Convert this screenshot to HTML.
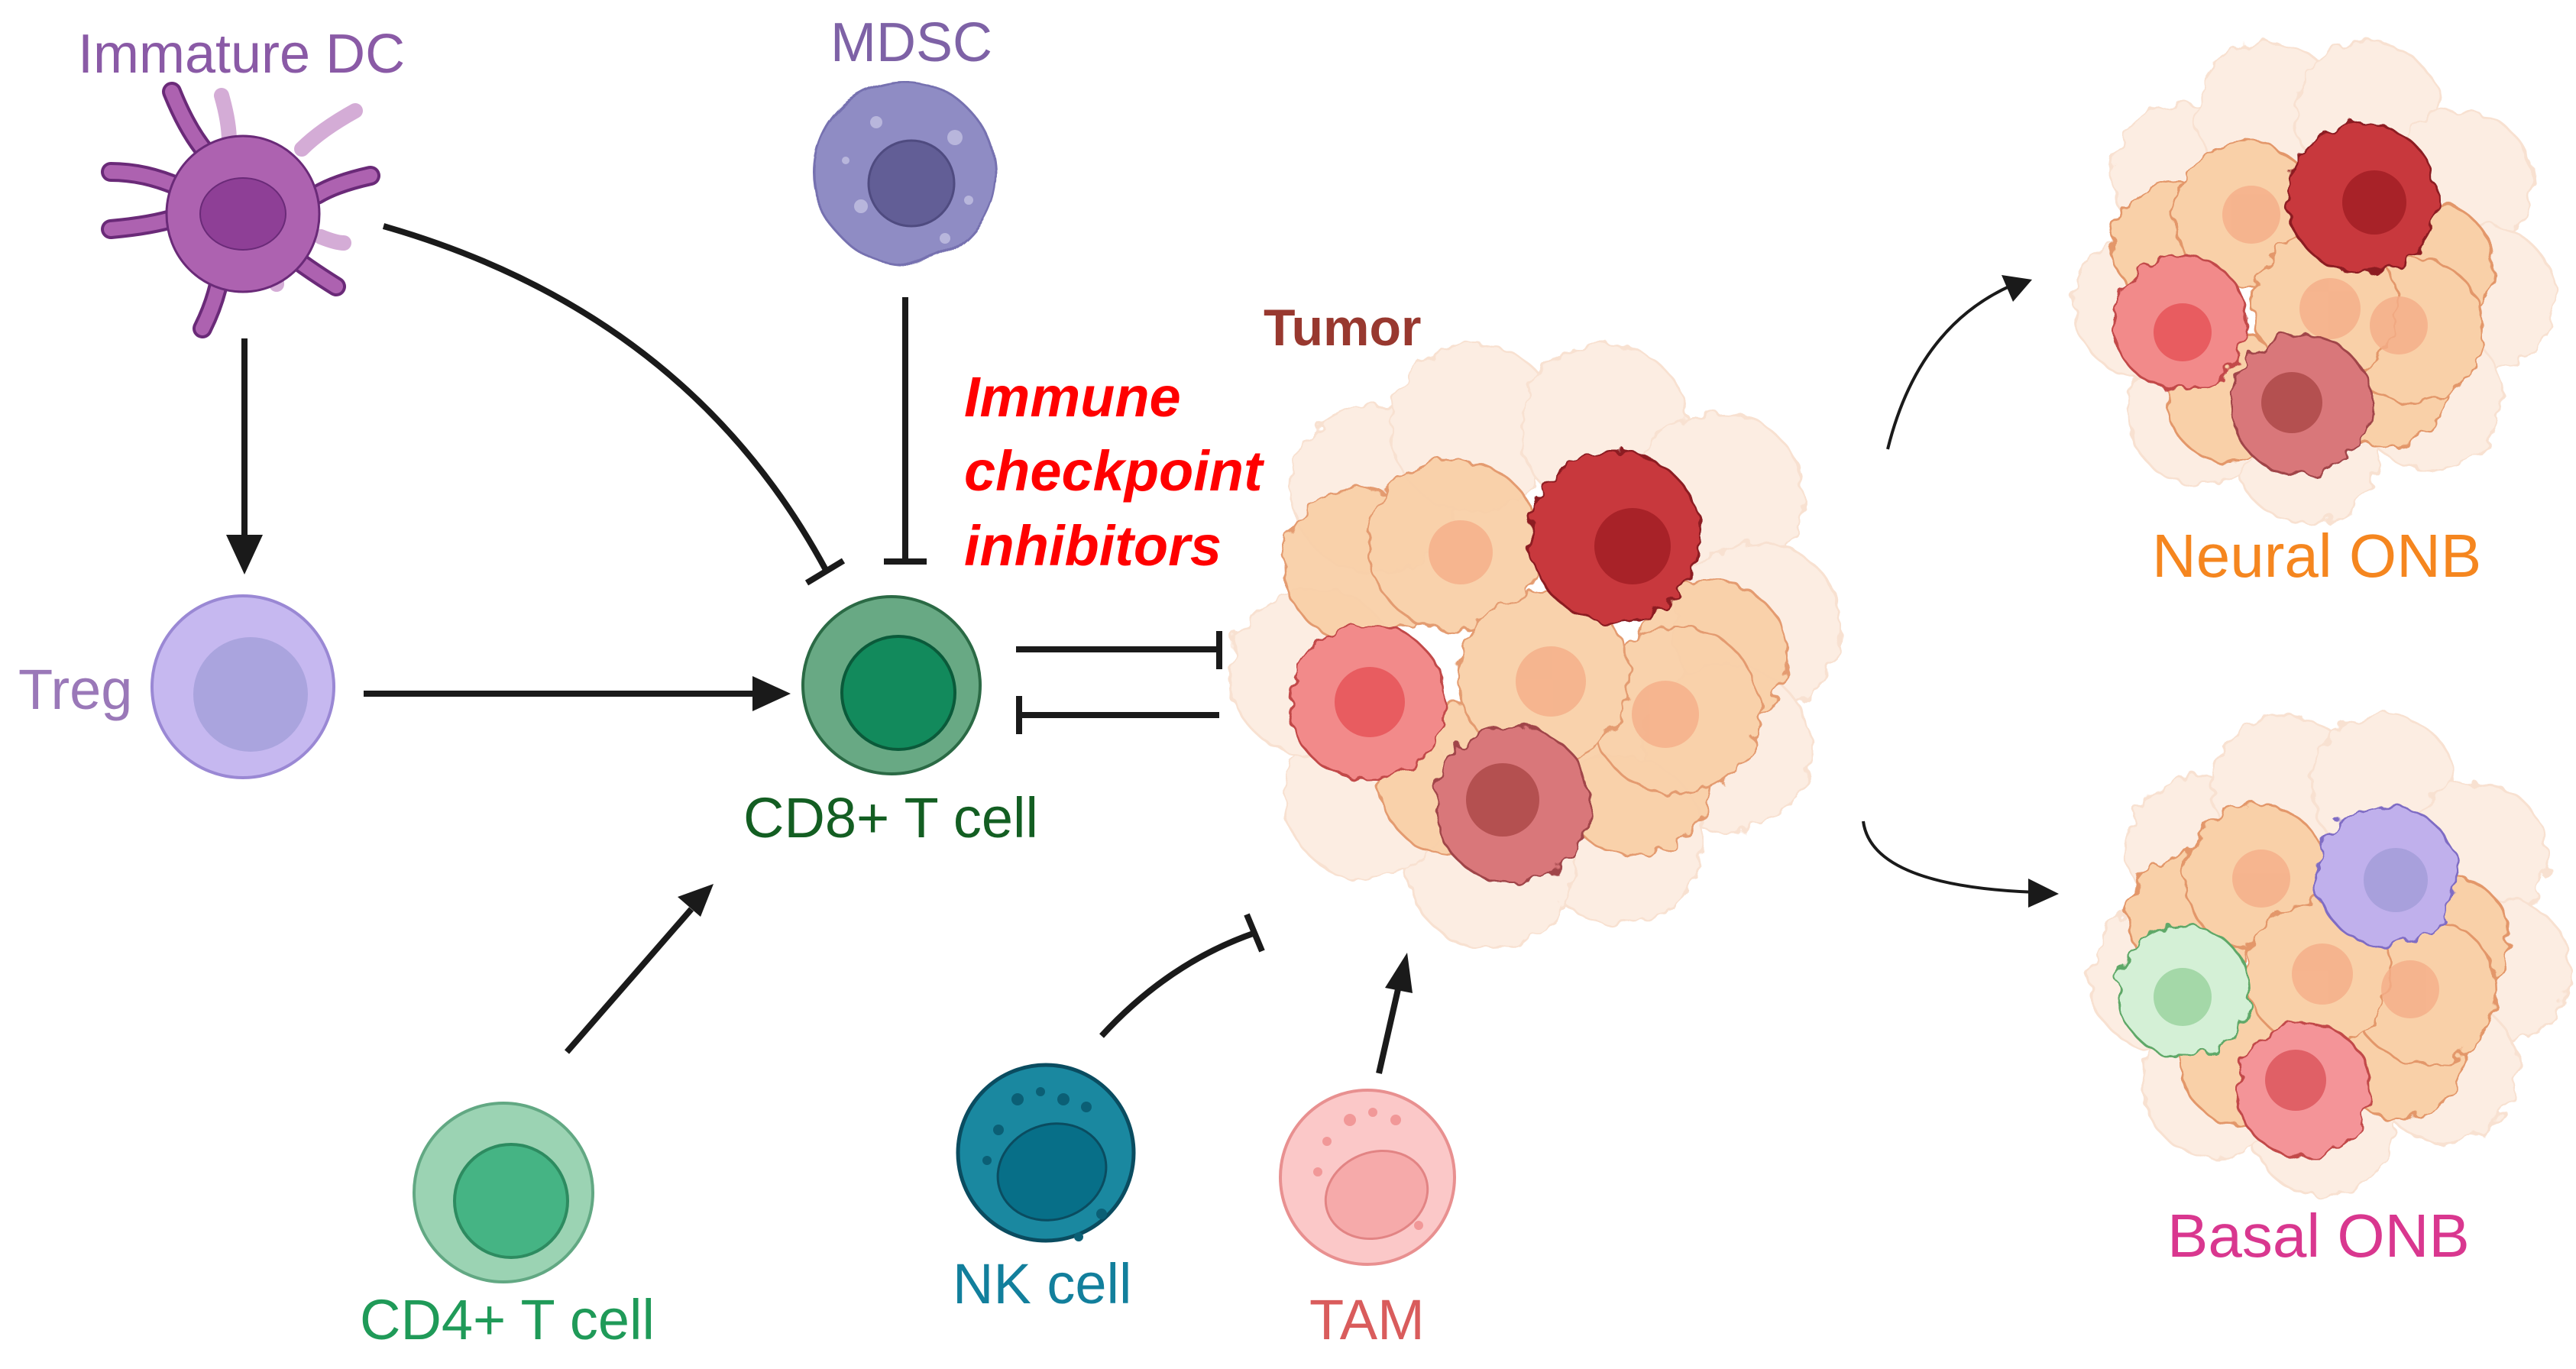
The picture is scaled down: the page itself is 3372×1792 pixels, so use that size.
<!DOCTYPE html>
<html><head><meta charset="utf-8"><style>
html,body{margin:0;padding:0;background:#fff}
svg{display:block}
text{font-family:"Liberation Sans",sans-serif}
</style></head><body>
<svg width="3372" height="1792" viewBox="0 0 3372 1792" xmlns="http://www.w3.org/2000/svg">
<defs>
<filter id="wv" x="-20%" y="-20%" width="140%" height="140%">
<feTurbulence type="fractalNoise" baseFrequency="0.045" numOctaves="2" seed="3"/>
<feDisplacementMap in="SourceGraphic" scale="22"/>
</filter>
<filter id="wv2" x="-20%" y="-20%" width="140%" height="140%">
<feTurbulence type="fractalNoise" baseFrequency="0.02" numOctaves="1" seed="7"/>
<feDisplacementMap in="SourceGraphic" scale="18"/>
</filter>
</defs>

<!-- Labels -->
<text x="102" y="95" font-size="72" fill="#8a5aa6">Immature DC</text>
<text x="1087" y="80" font-size="72" fill="#7e62a6">MDSC</text>
<text x="24" y="928" font-size="74" fill="#9a78b8">Treg</text>
<text x="973" y="1096" font-size="74" fill="#135e22">CD8+ T cell</text>
<text x="471" y="1753" font-size="74" fill="#1f9a58">CD4+ T cell</text>
<text x="1247" y="1706" font-size="74" fill="#127f9c">NK cell</text>
<text x="1714" y="1753" font-size="74" fill="#d95c5c">TAM</text>
<text x="1654" y="452" font-size="68" font-weight="bold" fill="#98382f">Tumor</text>
<text x="2817" y="755" font-size="80" fill="#f5861f">Neural ONB</text>
<text x="2837" y="1645" font-size="80" fill="#d9378f">Basal ONB</text>
<g font-size="74" font-weight="bold" font-style="italic" fill="#ff0000">
<text x="1262" y="545">Immune</text>
<text x="1262" y="642">checkpoint</text>
<text x="1262" y="740">inhibitors</text>
</g>

<!-- Immature DC -->
<g stroke-linecap="round" fill="none">
<g stroke="#d4acd6" stroke-width="20">
<path d="M290 125 Q300 160 300 185"/><path d="M465 145 Q420 170 395 195"/><path d="M355 330 Q362 360 362 372"/><path d="M420 310 Q440 318 450 318"/>
</g>
<g stroke="#6a2a78" stroke-width="26">
<path d="M225 120 Q245 170 270 200"/><path d="M145 225 Q190 225 235 245"/><path d="M145 300 Q200 295 230 285"/>
<path d="M265 430 Q285 390 290 350"/><path d="M440 375 Q400 350 375 330"/><path d="M485 230 Q440 240 415 255"/>
</g>
<g stroke="#ad62b0" stroke-width="18">
<path d="M225 120 Q245 170 270 200"/><path d="M145 225 Q190 225 235 245"/><path d="M145 300 Q200 295 230 285"/>
<path d="M265 430 Q285 390 290 350"/><path d="M440 375 Q400 350 375 330"/><path d="M485 230 Q440 240 415 255"/>
</g>
</g>
<ellipse cx="318" cy="280" rx="100" ry="102" fill="#ad62b0" stroke="#6a2a78" stroke-width="3"/>
<ellipse cx="318" cy="280" rx="56" ry="47" fill="#8e3f96" stroke="#6a2a78" stroke-width="2"/>

<!-- MDSC -->
<g filter="url(#wv2)"><circle cx="1185" cy="227" r="118" fill="#8f8cc4" stroke="#7671b0" stroke-width="3"/></g>
<circle cx="1193" cy="240" r="56" fill="#625e96" stroke="#4f4b80" stroke-width="3"/>
<g fill="#b8b6dc"><circle cx="1147" cy="160" r="8"/><circle cx="1250" cy="180" r="10"/><circle cx="1127" cy="270" r="9"/><circle cx="1237" cy="312" r="7"/><circle cx="1268" cy="262" r="6"/><circle cx="1107" cy="210" r="5"/></g>

<!-- Treg -->
<circle cx="318" cy="899" r="119" fill="#c6b8f0" stroke="#9a88d4" stroke-width="4"/>
<circle cx="328" cy="909" r="75" fill="#aaa4de"/>

<!-- CD8 -->
<circle cx="1167" cy="897" r="116" fill="#68a984" stroke="#2b6a45" stroke-width="4"/>
<circle cx="1176" cy="907" r="74" fill="#128a5c" stroke="#0a5a3a" stroke-width="4"/>

<!-- CD4 -->
<circle cx="659" cy="1561" r="117" fill="#9bd3b3" stroke="#62a883" stroke-width="4"/>
<circle cx="669" cy="1572" r="74" fill="#45b484" stroke="#2d8b60" stroke-width="4"/>

<!-- NK -->
<circle cx="1369" cy="1509" r="115" fill="#1a88a0" stroke="#0a4c60" stroke-width="5"/>
<ellipse cx="1377" cy="1534" rx="72" ry="62" transform="rotate(-20 1377 1534)" fill="#076f88" stroke="#0a4c60" stroke-width="3"/>
<g fill="#0b5f75"><circle cx="1332" cy="1439" r="8"/><circle cx="1362" cy="1429" r="6"/><circle cx="1392" cy="1439" r="8"/><circle cx="1422" cy="1449" r="7"/><circle cx="1307" cy="1479" r="7"/><circle cx="1292" cy="1519" r="6"/><circle cx="1442" cy="1589" r="7"/><circle cx="1412" cy="1619" r="6"/></g>

<!-- TAM -->
<circle cx="1790" cy="1541" r="114" fill="#fbc8c8" stroke="#e89090" stroke-width="4"/>
<ellipse cx="1802" cy="1564" rx="68" ry="56" transform="rotate(-20 1802 1564)" fill="#f6aaaa" stroke="#e28484" stroke-width="3"/>
<g fill="#f19898"><circle cx="1767" cy="1466" r="8"/><circle cx="1797" cy="1456" r="6"/><circle cx="1827" cy="1466" r="7"/><circle cx="1737" cy="1494" r="6"/><circle cx="1725" cy="1534" r="6"/><circle cx="1857" cy="1604" r="6"/></g>

<!-- Connectors -->
<g stroke="#1a1a1a" stroke-width="8" fill="none">
<line x1="320" y1="443" x2="320" y2="700"/>
<line x1="476" y1="908" x2="985" y2="908"/>
<path d="M502 296 Q900 410 1081 746"/>
<line x1="1056" y1="763" x2="1104" y2="734"/>
<line x1="1185" y1="389" x2="1185" y2="735"/>
<line x1="1157" y1="735" x2="1213" y2="735"/>
<line x1="1330" y1="850" x2="1596" y2="850"/>
<line x1="1596" y1="826" x2="1596" y2="876"/>
<line x1="1334" y1="936" x2="1596" y2="936"/>
<line x1="1334" y1="911" x2="1334" y2="961"/>
<line x1="742" y1="1377" x2="905" y2="1190"/>
<path d="M1442 1356 Q1530 1260 1643 1221"/>
<line x1="1632" y1="1197" x2="1652" y2="1245"/>
<line x1="1805" y1="1405" x2="1830" y2="1295"/>
</g>
<g stroke="#1a1a1a" stroke-width="4" fill="none">
<path d="M2471 588 Q2510 430 2630 375"/>
<path d="M2439 1075 Q2450 1160 2665 1168"/>
</g>
<g fill="#1a1a1a">
<polygon points="320,752 296,700 344,700"/>
<polygon points="1035,908 985,885 985,931"/>
<polygon points="934,1157 887,1174 917,1200"/>
<polygon points="1842,1247 1813,1293 1849,1300"/>
<polygon points="2660,366 2620,360 2635,395"/>
<polygon points="2695,1170 2655,1150 2655,1188"/>
</g>

<!-- Tumor cluster -->
<g>
<g filter="url(#wv)" opacity="0.5" fill="#fbdcc6" stroke="#f3c4a4" stroke-width="3">
<circle cx="1800" cy="640" r="110"/><circle cx="1930" cy="560" r="110"/><circle cx="2100" cy="560" r="110"/><circle cx="2250" cy="650" r="110"/>
<circle cx="2300" cy="820" r="110"/><circle cx="2260" cy="980" r="110"/><circle cx="2120" cy="1100" r="110"/><circle cx="1950" cy="1130" r="110"/>
<circle cx="1790" cy="1040" r="110"/><circle cx="1720" cy="880" r="110"/>
</g>
<g filter="url(#wv)" fill="#f9d0a8" stroke="#e3976a" stroke-width="3" opacity="0.95">
<circle cx="1780" cy="740" r="100"/><circle cx="2240" cy="860" r="100"/><circle cx="1905" cy="1020" r="100"/><circle cx="2140" cy="1020" r="100"/>
<circle cx="1903" cy="713" r="112"/><circle cx="2194" cy="930" r="110"/><circle cx="2021" cy="886" r="112"/>
</g>
<g fill="#f5ae88" opacity="0.8"><circle cx="1912" cy="723" r="42"/><circle cx="2030" cy="892" r="46"/><circle cx="2180" cy="935" r="44"/></g>
<g filter="url(#wv)">
<circle cx="2114" cy="703" r="112" fill="#c8383c" stroke="#8c1c20" stroke-width="3"/>
<circle cx="1790" cy="919" r="102" fill="#f28a8a" stroke="#c24a4a" stroke-width="3"/>
<circle cx="1980" cy="1053" r="102" fill="#d9777a" stroke="#a04448" stroke-width="3"/>
</g>
<circle cx="2137" cy="715" r="50" fill="#a82228"/>
<circle cx="1793" cy="919" r="46" fill="#e85c60"/>
<circle cx="1967" cy="1047" r="48" fill="#b45050"/>
</g>

<!-- Neural ONB cluster -->
<g>
<g filter="url(#wv)" opacity="0.5" fill="#fbdcc6" stroke="#f3c4a4" stroke-width="3">
<circle cx="2860" cy="230" r="95"/><circle cx="2970" cy="150" r="95"/><circle cx="3100" cy="150" r="95"/><circle cx="3220" cy="240" r="95"/>
<circle cx="3250" cy="390" r="95"/><circle cx="3180" cy="520" r="95"/><circle cx="3020" cy="590" r="95"/><circle cx="2880" cy="540" r="95"/><circle cx="2810" cy="400" r="95"/>
</g>
<g filter="url(#wv)" fill="#f9d0a8" stroke="#e3976a" stroke-width="3">
<circle cx="2850" cy="320" r="85"/><circle cx="3180" cy="350" r="85"/><circle cx="3120" cy="500" r="85"/><circle cx="2920" cy="520" r="85"/>
<circle cx="2940" cy="281" r="95"/><circle cx="3157" cy="432" r="95"/><circle cx="3044" cy="400" r="95"/>
</g>
<g fill="#f5ae88" opacity="0.8"><circle cx="2947" cy="281" r="38"/><circle cx="3050" cy="404" r="40"/><circle cx="3140" cy="426" r="38"/></g>
<g filter="url(#wv)">
<circle cx="3092" cy="259" r="98" fill="#c8383c" stroke="#8c1c20" stroke-width="3"/>
<circle cx="2854" cy="422" r="88" fill="#f28a8a" stroke="#c24a4a" stroke-width="3"/>
<circle cx="3012" cy="530" r="92" fill="#d9777a" stroke="#a04448" stroke-width="3"/>
</g>
<circle cx="3108" cy="265" r="42" fill="#a82228"/>
<circle cx="2857" cy="435" r="38" fill="#e85c60"/>
<circle cx="3000" cy="527" r="40" fill="#b45050"/>
</g>

<!-- Basal ONB cluster -->
<g>
<g filter="url(#wv)" opacity="0.5" fill="#fbdcc6" stroke="#f3c4a4" stroke-width="3">
<circle cx="2880" cy="1110" r="95"/><circle cx="2990" cy="1030" r="95"/><circle cx="3120" cy="1030" r="95"/><circle cx="3240" cy="1120" r="95"/>
<circle cx="3270" cy="1270" r="95"/><circle cx="3200" cy="1400" r="95"/><circle cx="3040" cy="1470" r="95"/><circle cx="2900" cy="1420" r="95"/><circle cx="2830" cy="1280" r="95"/>
</g>
<g filter="url(#wv)" fill="#f9d0a8" stroke="#e3976a" stroke-width="3">
<circle cx="2870" cy="1200" r="85"/><circle cx="3200" cy="1230" r="85"/><circle cx="3140" cy="1380" r="85"/><circle cx="2940" cy="1390" r="85"/>
<circle cx="2954" cy="1149" r="95"/><circle cx="3173" cy="1297" r="95"/><circle cx="3034" cy="1274" r="95"/>
</g>
<g fill="#f5ae88" opacity="0.8"><circle cx="2960" cy="1150" r="38"/><circle cx="3040" cy="1275" r="40"/><circle cx="3155" cy="1295" r="38"/></g>
<g filter="url(#wv)">
<circle cx="3124" cy="1146" r="92" fill="#c0b0ec" stroke="#7f6cc4" stroke-width="3"/>
<circle cx="2858" cy="1297" r="86" fill="#d4f0d6" stroke="#5fa868" stroke-width="3"/>
<circle cx="3016" cy="1427" r="88" fill="#f49498" stroke="#c24a4a" stroke-width="3"/>
</g>
<circle cx="3136" cy="1152" r="42" fill="#a8a0dc"/>
<circle cx="2857" cy="1305" r="38" fill="#a4d8a8"/>
<circle cx="3005" cy="1414" r="40" fill="#e06066"/>
</g>
</svg>
</body></html>
